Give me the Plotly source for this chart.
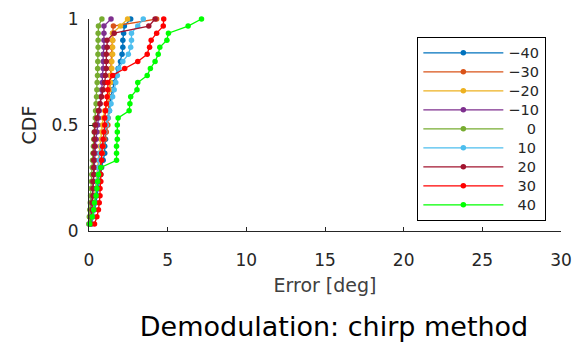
import plotly.graph_objects as go

# Angle labels (legend) and series colours (MATLAB default order + red, green)
labels = ["\u221240", "\u221230", "\u221220", "\u221210", "\u2007\u20070", "\u200710", "\u200720", "\u200730", "\u200740"]
colors = ["#0072BD", "#D95319", "#EDB120", "#7E2F8E", "#77AC30", "#4DBEEE", "#A2142F", "#FF0000", "#00FF00"]

# Sorted error samples [deg] for each angle (CDF steps of 1/30)
err_m40 = [0.15, 0.25, 0.35, 0.45, 0.5, 0.6, 0.65, 0.75, 0.8, 0.9, 1.0, 1.0, 1.05, 1.05, 1.1,
           1.2, 1.3, 1.35, 1.4, 1.5, 1.6, 1.7, 1.85, 2.0, 2.1, 2.15, 2.15, 2.2, 2.25, 2.65]
err_m30 = [0.1, 0.2, 0.3, 0.35, 0.4, 0.5, 0.55, 0.6, 0.7, 0.75, 0.85, 0.9, 1.0, 1.1, 1.2,
           1.2, 1.25, 1.25, 1.3, 1.3, 1.35, 1.35, 1.4, 1.4, 1.45, 1.45, 1.5, 1.5, 1.55, 4.3]
err_m20 = [0.1, 0.15, 0.2, 0.3, 0.35, 0.4, 0.45, 0.5, 0.55, 0.6, 0.65, 0.7, 0.75, 0.8, 0.85,
           0.9, 1.0, 1.1, 1.2, 1.3, 1.35, 1.4, 1.45, 1.45, 1.5, 1.5, 1.5, 1.5, 2.0, 2.45]
err_m10 = [0.0, 0.05, 0.1, 0.15, 0.2, 0.25, 0.3, 0.3, 0.35, 0.35, 0.4, 0.4, 0.45, 0.5, 0.55,
           0.6, 0.65, 0.7, 0.75, 0.8, 0.85, 0.85, 0.9, 0.9, 0.9, 0.95, 0.95, 0.95, 0.95, 1.4]
err_0 = [0.0, 0.02, 0.05, 0.08, 0.1, 0.12, 0.15, 0.18, 0.2, 0.22, 0.25, 0.28, 0.3, 0.33, 0.36,
         0.4, 0.42, 0.45, 0.48, 0.5, 0.52, 0.54, 0.55, 0.56, 0.57, 0.58, 0.58, 0.58, 0.6, 0.82]
err_10 = [0.1, 0.2, 0.3, 0.35, 0.4, 0.45, 0.5, 0.55, 0.6, 0.65, 0.7, 0.8, 0.9, 1.0, 1.1,
          1.2, 1.3, 1.4, 1.5, 1.6, 1.7, 1.8, 1.9, 2.15, 2.5, 2.65, 2.7, 2.7, 3.1, 3.45]
err_20 = [0.1, 0.15, 0.2, 0.2, 0.25, 0.25, 0.25, 0.3, 0.3, 0.3, 0.3, 0.35, 0.35, 0.35, 0.4,
          0.5, 0.6, 0.7, 0.8, 0.9, 1.0, 1.05, 1.1, 1.1, 1.1, 1.15, 1.15, 1.6, 3.8, 4.2]
err_30 = [0.35, 0.5, 0.6, 0.65, 0.7, 0.7, 0.75, 0.75, 0.75, 0.8, 0.8, 0.85, 0.9, 0.95, 1.0,
          1.0, 1.05, 1.1, 1.15, 1.2, 1.2, 1.5, 2.27, 3.1, 3.7, 3.85, 3.95, 4.3, 4.72, 4.75]
err_40 = [0.05, 0.2, 0.3, 0.35, 0.45, 0.5, 0.55, 0.6, 0.75, 1.75, 1.75, 1.75, 1.8, 1.8, 1.8,
          1.85, 2.55, 2.6, 2.65, 3.05, 3.1, 3.7, 3.9, 4.2, 4.4, 4.5, 4.95, 5.05, 6.3, 7.15]

series = [err_m40, err_m30, err_m20, err_m10, err_0, err_10, err_20, err_30, err_40]

x_ticks = [0, 5, 10, 15, 20, 25, 30]
y_ticks = [0, 0.5, 1]
y_tick_text = ["0", "0.5", "1"]

FONT = "DejaVu Sans"
AX = "#262626"

fig = go.Figure()
for lab, col, errs in zip(labels, colors, series):
    n = len(errs)
    cdf = [(i + 1) / n for i in range(n)]
    fig.add_trace(go.Scatter(
        x=errs, y=cdf, mode="lines+markers",
        name="<span style='font-size:14.5px'>" + lab + "</span>",
        line=dict(color=col, width=1.3),
        marker=dict(color=col, size=5.5),
        cliponaxis=False,
    ))

fig.update_layout(
    width=586, height=342,
    margin=dict(l=89, r=25, t=19, b=111, autoexpand=False),
    paper_bgcolor="white", plot_bgcolor="white",
    font=dict(family=FONT, color=AX, size=16),
    showlegend=True,
    legend=dict(
        x=0.695, y=0.915, xanchor="left", yanchor="top",
        bgcolor="white", bordercolor="black", borderwidth=1.3,
        font=dict(family=FONT, size=12, color=AX),
        itemwidth=80, tracegroupgap=0,
    ),
    title=dict(
        text="Demodulation: chirp method",
        x=0.57, xanchor="center", y=0.044, yanchor="middle",
        xref="container", yref="container",
        font=dict(family="DejaVu Sans", size=27, color="black"),
    ),
    xaxis=dict(
        range=[0, 30], tickvals=x_ticks, ticktext=[str(v) for v in x_ticks],
        showgrid=False, zeroline=False, showline=True, linecolor=AX, linewidth=1,
        ticks="inside", ticklen=4, tickcolor=AX, ticklabelstandoff=14,
        tickfont=dict(size=17, color=AX),
        title=dict(text="Error [deg]", font=dict(size=19, color="#404040"), standoff=9),
    ),
    yaxis=dict(
        range=[0, 1], tickvals=y_ticks, ticktext=y_tick_text,
        showgrid=False, zeroline=False, showline=True, linecolor=AX, linewidth=1,
        ticks="inside", ticklen=4, tickcolor=AX, ticklabelstandoff=6,
        tickfont=dict(size=17, color=AX),
        title=dict(text="CDF", font=dict(size=19, color=AX), standoff=9),
    ),
)

fig.write_html("out.html", config={"displayModeBar": False},
               post_script="document.body.style.margin='0';")
